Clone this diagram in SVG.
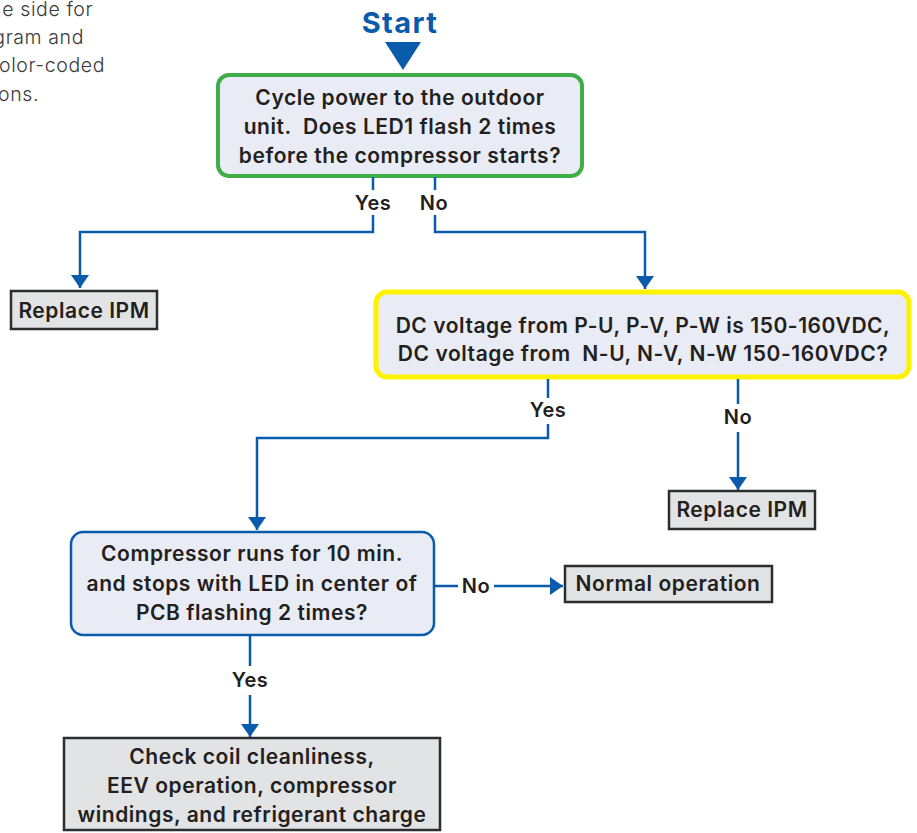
<svg xmlns="http://www.w3.org/2000/svg" width="917" height="833" viewBox="0 0 917 833">
<defs>
<style>
.t{font-family:Inter,"Open Sans","Liberation Sans",sans-serif;font-weight:600;font-size:21px;letter-spacing:0.55px;fill:#231f20;text-anchor:middle}
.lbl{font-family:Inter,"Open Sans","Liberation Sans",sans-serif;font-weight:600;font-size:20px;letter-spacing:0.5px;fill:#231f20;text-anchor:middle}
.note{font-family:Inter,"Open Sans","Liberation Sans",sans-serif;font-weight:300;font-size:19.5px;letter-spacing:0.6px;fill:#3a3a3a;text-anchor:end}
.act{fill:#e2e3e5;stroke:#2d2d2d;stroke-width:2.5}
.c{fill:none;stroke:#0a5bab;stroke-width:2.5}
</style>
<marker id="ah" viewBox="0 0 13 18" refX="13" refY="9" markerWidth="13" markerHeight="18" markerUnits="userSpaceOnUse" orient="auto">
<path d="M0,0 L13,9 L0,18 Z" fill="#0a5bab"/>
</marker>
</defs>
<rect width="917" height="833" fill="#ffffff"/>

<g id="note">
<text class="note" x="93" y="16">e side for</text>
<text class="note" x="84" y="44">gram and</text>
<text class="note" x="105" y="72">olor-coded</text>
<text class="note" x="39" y="101">ons.</text>
</g>

<g id="start">
<text x="400" y="33" style="font-family:Inter,'Open Sans','Liberation Sans',sans-serif;font-weight:700;font-size:29px;letter-spacing:1.4px;fill:#0a5bab;text-anchor:middle">Start</text>
<polygon points="385,42 421,42 403,70" fill="#0a5bab"/>
</g>

<g id="n1">
<rect x="218" y="75" width="364" height="101" rx="11" fill="#e9ecf4" stroke="#3fae49" stroke-width="4"/>
<text class="t" x="400" y="105">Cycle power to the outdoor</text>
<text class="t" x="400" y="134" xml:space="preserve">unit.  Does LED1 flash 2 times</text>
<text class="t" x="400" y="163">before the compressor starts?</text>
</g>

<g id="n2">
<rect x="11" y="291" width="146" height="38" class="act"/>
<text class="t" x="84" y="318">Replace IPM</text>
</g>

<g id="n3">
<rect x="376" y="292" width="533" height="85" rx="11" fill="#e9ecf4" stroke="#fff200" stroke-width="5"/>
<text class="t" x="643" y="333">DC voltage from P-U, P-V, P-W is 150-160VDC,</text>
<text class="t" x="643" y="361" xml:space="preserve">DC voltage from  N-U, N-V, N-W 150-160VDC?</text>
</g>

<g id="n4">
<rect x="669" y="491" width="146" height="38" class="act"/>
<text class="t" x="742" y="517">Replace IPM</text>
</g>

<g id="n5">
<rect x="71" y="532" width="363" height="103" rx="12" fill="#e9ecf4" stroke="#0a5bab" stroke-width="2.5"/>
<text class="t" x="252" y="561">Compressor runs for 10 min.</text>
<text class="t" x="252" y="591">and stops with LED in center of</text>
<text class="t" x="252" y="620">PCB flashing 2 times?</text>
</g>

<g id="n6">
<rect x="565" y="566" width="207" height="36" class="act"/>
<text class="t" x="668" y="591">Normal operation</text>
</g>

<g id="n7">
<rect x="64" y="738" width="376" height="92" class="act"/>
<text class="t" x="252" y="764">Check coil cleanliness,</text>
<text class="t" x="252" y="793">EEV operation, compressor</text>
<text class="t" x="252" y="822">windings, and refrigerant charge</text>
</g>

<g id="connectors">
<path class="c" d="M373,177 V190"/>
<path class="c" d="M373,215 V232 H80 V288" marker-end="url(#ah)"/>
<path class="c" d="M435,177 V190"/>
<path class="c" d="M435,215 V232 H645 V289" marker-end="url(#ah)"/>
<path class="c" d="M548,379 V398"/>
<path class="c" d="M548,424 V438 H257 V530" marker-end="url(#ah)"/>
<path class="c" d="M738,379 V404"/>
<path class="c" d="M738,432 V490" marker-end="url(#ah)"/>
<path class="c" d="M435,586 H458"/>
<path class="c" d="M494,586 H563" marker-end="url(#ah)"/>
<path class="c" d="M250,636 V666"/>
<path class="c" d="M250,695 V737" marker-end="url(#ah)"/>
<text class="lbl" x="373" y="210">Yes</text>
<text class="lbl" x="434" y="210">No</text>
<text class="lbl" x="548" y="417">Yes</text>
<text class="lbl" x="738" y="424">No</text>
<text class="lbl" x="476" y="593">No</text>
<text class="lbl" x="250" y="687">Yes</text>
</g>
</svg>
